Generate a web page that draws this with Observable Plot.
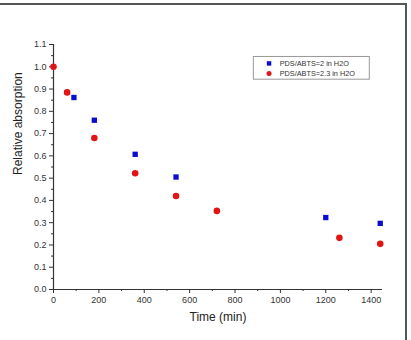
<!DOCTYPE html>
<html>
<head>
<meta charset="utf-8">
<script src="https://cdn.jsdelivr.net/npm/d3@7"></script>
<script src="https://cdn.jsdelivr.net/npm/@observablehq/plot@0.6"></script>
<style>
  html, body { margin: 0; padding: 0; background: #fff; }
  #wrap { position: relative; width: 411px; height: 340px; overflow: hidden; }
  #frame { position: absolute; left: 0; top: 3px; width: 405px; height: 345px;
           border-top: 2px solid #555; border-right: 2px solid #555; pointer-events: none; }
</style>
</head>
<body>
<div id="wrap"><div id="frame"></div></div>
<script>
// Series 1: PDS/ABTS=2 in H2O (blue squares)
const timeA = [90, 180, 360, 540, 1200, 1440];
const valueA = [0.862, 0.760, 0.607, 0.505, 0.323, 0.297];
// Series 2: PDS/ABTS=2.3 in H2O (red circles)
const timeB = [0, 60, 180, 360, 540, 720, 1260, 1440];
const valueB = [1.000, 0.885, 0.680, 0.522, 0.420, 0.353, 0.232, 0.205];

const seriesNames = ["PDS/ABTS=2 in H2O", "PDS/ABTS=2.3 in H2O"];
const xTicks = [0, 200, 400, 600, 800, 1000, 1200, 1400];
const yTicks = [0.0, 0.1, 0.2, 0.3, 0.4, 0.5, 0.6, 0.7, 0.8, 0.9, 1.0, 1.1];
const xLabel = "Time (min)";
const yLabel = "Relative absorption";

const blue = "#0c0cd0";
const red = "#e01616";
const axisColor = "#333";
const font = "'Liberation Sans', Arial, sans-serif";

const dataA = timeA.map((t, i) => ({t, v: valueA[i]}));
const dataB = timeB.map((t, i) => ({t, v: valueB[i]}));
const xMinor = d3.range(100, 1450, 200);
const yMinor = d3.range(0.05, 1.1, 0.1);

// legend placed in data space (upper right)
const legend = [
  {name: seriesNames[0], y: 1.015, color: blue, symbol: "square"},
  {name: seriesNames[1], y: 0.970, color: red, symbol: "circle"}
];

const chart = Plot.plot({
  width: 411,
  height: 340,
  marginLeft: 53,
  marginRight: 29,
  marginTop: 44,
  marginBottom: 51,
  style: {fontFamily: font, background: "transparent", color: axisColor},
  x: {domain: [0, 1450]},
  y: {domain: [0, 1.1]},
  marks: [
    Plot.axisX({ticks: xTicks, tickSize: 4, tickPadding: 3, fontSize: 9, tickFormat: d3.format("d"), label: null, stroke: axisColor, fill: "#333"}),
    Plot.axisX({ticks: xMinor, tickSize: 2, tickFormat: null, text: null, label: null, stroke: axisColor}),
    Plot.axisY({ticks: yTicks, tickSize: 4, tickPadding: 3, fontSize: 9, tickFormat: d3.format(".1f"), label: null, stroke: axisColor, fill: "#333"}),
    Plot.axisY({ticks: yMinor, tickSize: 2, text: null, label: null, stroke: axisColor}),
    Plot.ruleY([0], {stroke: axisColor, strokeWidth: 1.2}),
    Plot.ruleX([0], {stroke: axisColor, strokeWidth: 1.2}),
    Plot.text([xLabel], {frameAnchor: "bottom", dy: 31, fontSize: 12, fill: "#222"}),
    Plot.text([yLabel], {frameAnchor: "left", dx: -35, dy: 8, rotate: -90, fontSize: 12, fill: "#222"}),
    Plot.dot(dataA, {x: "t", y: "v", symbol: "square", r: 3, fill: blue, stroke: "none"}),
    Plot.dot(dataB, {x: "t", y: "v", symbol: "circle", r: 3.3, fill: red, stroke: "none"}),
    // legend box
    Plot.rect([{x1: 883, x2: 1394, y1: 0.942, y2: 1.044}], {x1: "x1", x2: "x2", y1: "y1", y2: "y2", fill: "white", stroke: "#999", strokeWidth: 1}),
    Plot.dot(legend, {x: () => 950, y: "y", symbol: "symbol", r: 2.5, fill: "color", stroke: "none"}),
    Plot.text(legend, {x: () => 997, y: "y", text: "name", textAnchor: "start", fontSize: 7.3, fill: "#333"})
  ]
});
document.getElementById("wrap").prepend(chart);
</script>
</body>
</html>
